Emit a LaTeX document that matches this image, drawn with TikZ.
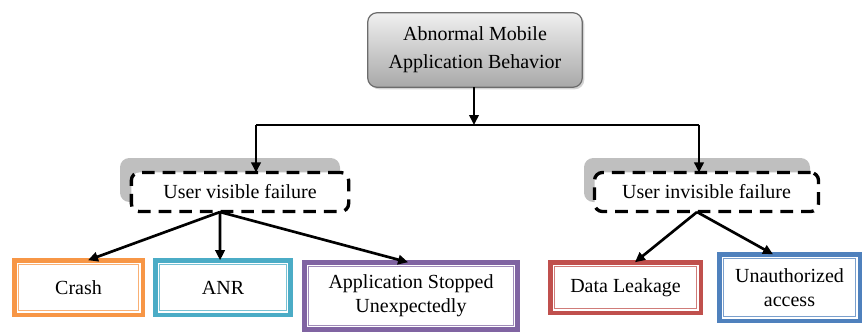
\documentclass[tikz,border=0pt]{standalone}
\usepackage{fontspec}
\setmainfont{Liberation Serif}
\usetikzlibrary{arrows.meta,shadows}
\definecolor{cOrange}{HTML}{F79646}
\definecolor{cTeal}{HTML}{4BACC6}
\definecolor{cPurple}{HTML}{8064A2}
\definecolor{cRed}{HTML}{C0504D}
\definecolor{cBlue}{HTML}{4F81BD}
\definecolor{cShade}{HTML}{BFBFBF}
\begin{document}
\begin{tikzpicture}[x=0.75pt,y=-0.75pt,
  font=\fontsize{15}{18}\selectfont,
  conn/.style={line width=2pt, -{Triangle[length=7.5pt,width=7pt]}},
  plain/.style={line width=1.8pt},
  topbox/.style={draw=gray!85!black, line width=0.9pt, rounded corners=7pt,
    top color=gray!12, bottom color=gray!68, align=center, inner sep=0pt, outer sep=0pt,
    font=\fontsize{15}{21}\selectfont,
    drop shadow={shadow xshift=1.5pt, shadow yshift=-1.5pt, opacity=0.35}},
  failbox/.style={draw=black, line width=2.5pt, dash pattern=on 9.5pt off 6pt,
    rounded corners=6pt, fill=white, inner sep=0pt, outer sep=0pt},
  shadebox/.style={fill=cShade, rounded corners=7pt},
  leaf/.style={draw=#1, line width=3.4pt, fill=white, align=center, inner sep=0pt, outer sep=0pt},
  inner/.style={draw=#1!75, line width=0.7pt}
]
\useasboundingbox (0,0) rectangle (863,333);

% top
\node[topbox, minimum width=160.9pt, minimum height=55.9pt] (top) at (475,50)
  {Abnormal Mobile\\Application Behavior};

% second level
\fill[shadebox] (120,158) rectangle (340,202);
\fill[shadebox] (584,158) rectangle (810,202);
\node[failbox, minimum width=163pt, minimum height=29.3pt] (vis) at (240,192) {User visible failure};
\node[failbox, minimum width=168pt, minimum height=29.3pt] (inv) at (706.5,192) {User invisible failure};

% leaves
\node[leaf=cOrange, minimum width=96.4pt, minimum height=40.9pt] (crash) at (78.5,287.5) {Crash};
\node[leaf=cTeal, minimum width=101.6pt, minimum height=40.9pt] (anr) at (223,287.5) {ANR};
\node[leaf=cPurple, minimum width=160.1pt, minimum height=50.6pt] (app) at (411,296) {Application Stopped\\Unexpectedly};
\node[leaf=cRed, minimum width=112.9pt, minimum height=37.9pt] (data) at (625.5,287.5) {Data Leakage};
\node[leaf=cBlue, minimum width=105.4pt, minimum height=49.9pt] (unauth) at (789.5,287.5) {Unauthorized\\access};

\foreach \n/\c in {crash/cOrange, anr/cTeal, app/cPurple, data/cRed, unauth/cBlue}
  \draw[inner=\c] ([shift={(3.2pt,-3.2pt)}]\n.north west) rectangle ([shift={(-3.2pt,3.2pt)}]\n.south east);

% connectors
\coordinate (jm) at (474,125);
\coordinate (jl) at (256,125);
\coordinate (jr) at (699,125);
\draw[conn] (top.south -| jm) -- (jm);
\draw[plain] (jl) -- (jr);
\draw[conn] (jl) -- (jl |- vis.north);
\draw[conn] (jr) -- (jr |- inv.north);

\coordinate (vs) at (220,212);
\coordinate (is) at (697,212);
\draw[conn] (vs) -- ([xshift=7.1pt]crash.north);
\draw[conn] (vs) -- ([xshift=-2.2pt]anr.north);
\draw[conn] (vs) -- ([xshift=-2.2pt]app.north);
\draw[conn] (is) -- ([xshift=7.1pt]data.north);
\draw[conn] (is) -- ([xshift=-12.4pt]unauth.north);
\end{tikzpicture}
\end{document}
